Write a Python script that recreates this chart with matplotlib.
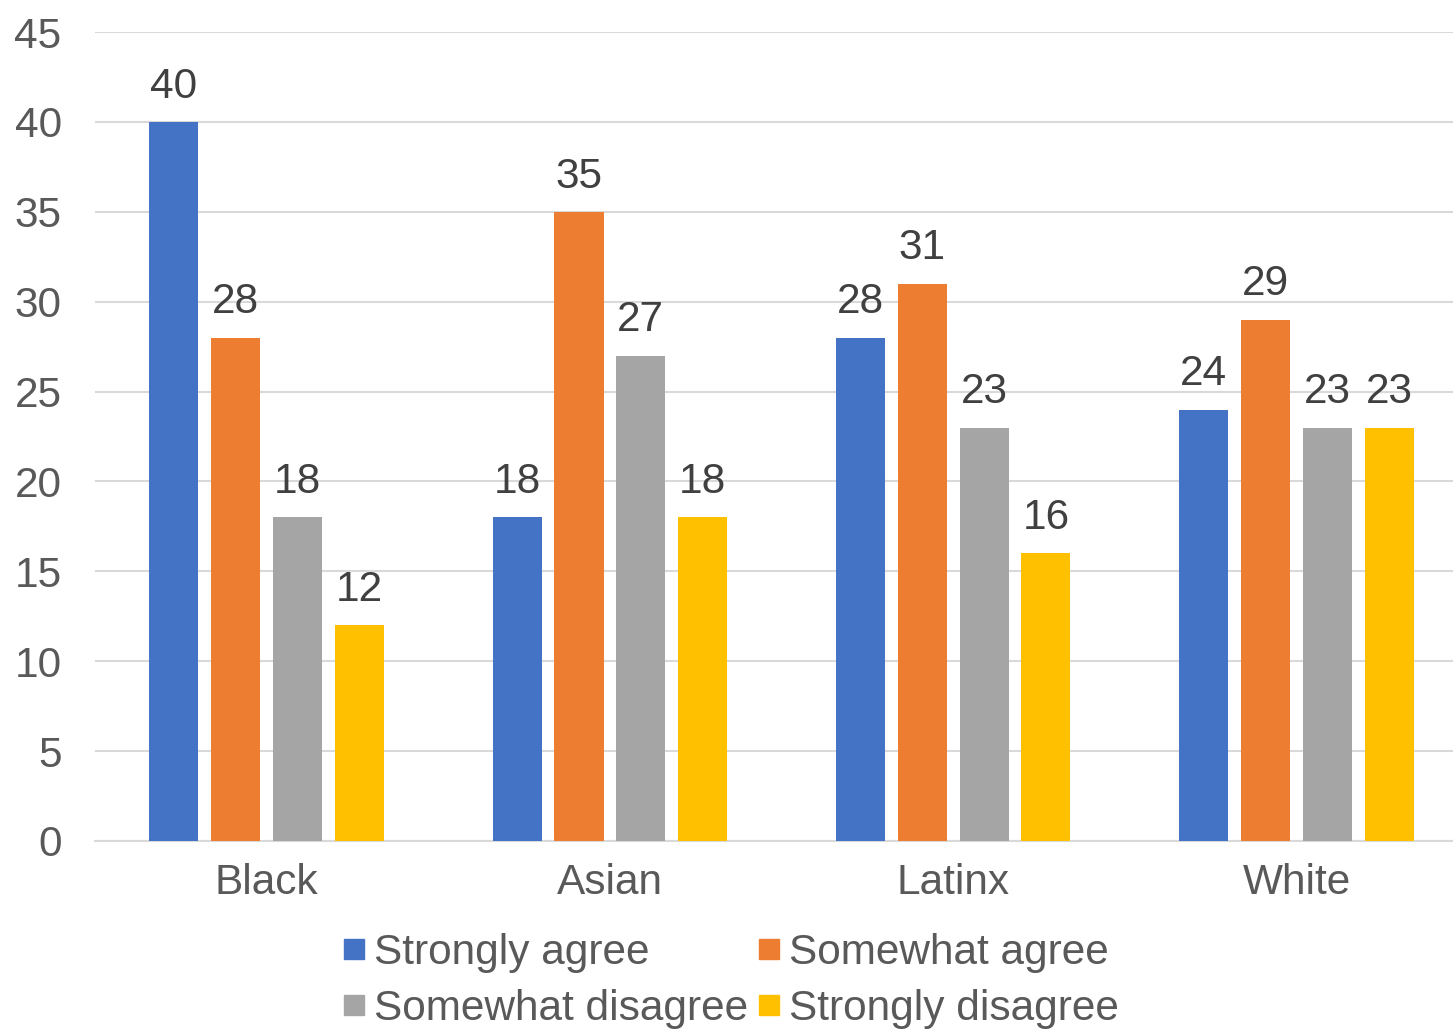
import numpy as np
import matplotlib.pyplot as plt
from matplotlib.lines import Line2D

# Data
groups = ['Black', 'Asian', 'Latinx', 'White']
series = ['Strongly agree', 'Somewhat agree', 'Somewhat disagree', 'Strongly disagree']
strongly_agree = [40, 18, 28, 24]
somewhat_agree = [28, 35, 31, 29]
somewhat_disagree = [18, 27, 23, 23]
strongly_disagree = [12, 18, 16, 23]
colors = ['#4472C4', '#ED7D31', '#A5A5A5', '#FFC000']

plt.rcParams['font.family'] = ['Liberation Sans', 'DejaVu Sans']
fs = 30.5

fig = plt.figure(figsize=(14.53, 10.30), dpi=100)
ax = fig.add_axes([95 / 1453, (1030 - 841) / 1030, 1358 / 1453, 809 / 1030])

x = np.arange(len(groups))
offsets = [-0.27, -0.09, 0.09, 0.27]
width = 0.143
values = [strongly_agree, somewhat_agree, somewhat_disagree, strongly_disagree]

for vals, off, c in zip(values, offsets, colors):
    bars = ax.bar(x + off, vals, width, color=c, zorder=3)
    for b, v in zip(bars, vals):
        ax.annotate(str(v), (b.get_x() + b.get_width() / 2, v),
                    xytext=(0, 11), textcoords='offset points',
                    ha='center', va='bottom', fontsize=fs, color='#404040')

ax.set_xlim(-0.5, 3.456)
ax.set_ylim(0, 45)
ax.set_yticks(range(0, 46, 5))
ax.set_xticks(x)
ax.set_xticklabels(groups)
ax.tick_params(axis='both', length=0, labelsize=fs, labelcolor='#595959')
ax.tick_params(axis='y', pad=24)
ax.tick_params(axis='x', pad=16)
for lbl in ax.get_yticklabels():
    lbl.set_va('center_baseline')
ax.grid(axis='y', color='#D9D9D9', linewidth=1.5, zorder=0)
for s in ['top', 'right', 'left']:
    ax.spines[s].set_visible(False)
ax.spines['bottom'].set_color('#D9D9D9')
ax.spines['bottom'].set_linewidth(1.5)

# legend in row order (matplotlib fills columns first)
order = [0, 2, 1, 3]
handles = [Line2D([], [], marker='s', linestyle='', markersize=14, color=colors[i])
           for i in order]
labels = [series[i] for i in order]
leg = fig.legend(handles, labels, ncol=2, loc='center', bbox_to_anchor=(731 / 1453, 1 - 981 / 1030),
                 frameon=False, fontsize=fs, handlelength=0.5, handletextpad=0.22,
                 columnspacing=0.25, labelspacing=0.38, borderaxespad=0)
for t in leg.get_texts():
    t.set_color('#595959')

plt.savefig('out.png', dpi=100)
